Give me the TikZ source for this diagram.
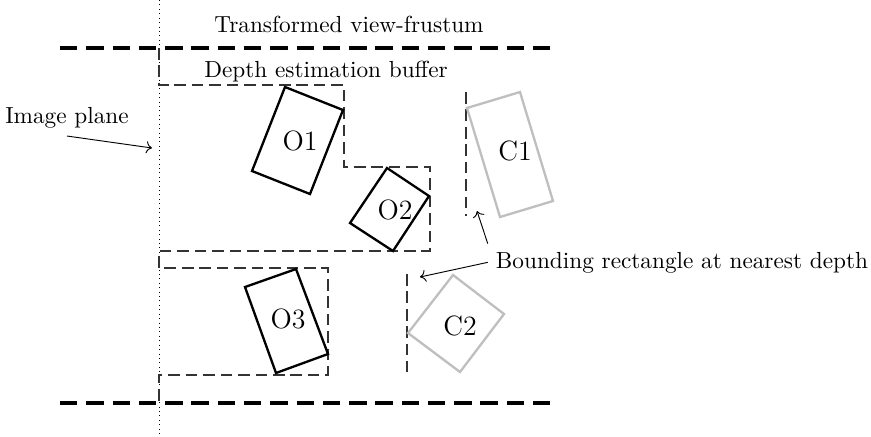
\documentclass[tikz,border=0pt]{standalone}
\usetikzlibrary{positioning, arrows.meta}

\begin{document}
\begin{tikzpicture}[
    x=0.43pt, y=-0.43pt,
    frustum/.style={
        dash pattern=on 7.5pt off 3.8pt,
        line width=1.4pt
    },
    buffer/.style={
        dash pattern=on 5pt off 2.5pt,
        line width=0.5pt,
        black!80
    },
    plane/.style={
        dash pattern=on 0.4pt off 1.5pt,
        line width=0.4pt
    },
    obj/.style={
        draw,
        line width=1pt
    },
    cand/.style={
        draw=black!25,
        line width=1pt
    },
    objlabel/.style={
        font=\large
    },
    ptr/.style={
        ->,
        thin
    }
]
    \useasboundingbox (0,0) rectangle (871,436);

    % Image plane
    \draw[plane] (159,0) -- (159,436);

    % Transformed view-frustum
    \draw[frustum] (60,48) -- (558,48);
    \draw[frustum] (60,403) -- (558,403);

    % Depth estimation buffer
    \draw[buffer] (159,48) |- (344,85) |- (430,167) |- (159,251)
        |- (328,268) |- (159,375) -- (159,403);

    % Bounding rectangles of the candidates
    \draw[buffer] (466,92) -- (466,216);
    \draw[buffer] (407,274) -- (407,372);

    % Objects
    \draw[obj] (285,87) -- (343,110) -- (310,194) -- (252,171) -- cycle;
    \node[objlabel] (o1) at (300,141) {O1};
    \draw[obj] (387,168) -- (429,196) -- (393,251) -- (350,223) -- cycle;
    \node[objlabel] (o2) at (395,210) {O2};
    \draw[obj] (245,287) -- (296,269) -- (328,354) -- (276,373) -- cycle;
    \node[objlabel] (o3) at (288,319) {O3};

    % Candidates
    \draw[cand] (467,108) -- (520,92) -- (553,201) -- (500,217) -- cycle;
    \node[objlabel] (c1) at (515,151) {C1};
    \draw[cand] (453,275) -- (504,314) -- (460,372) -- (408,333) -- cycle;
    \node[objlabel] (c2) at (460,326) {C2};

    % Labels
    \node[anchor=base] (frustumlabel) at (349,32) {Transformed view-frustum};
    \node[anchor=base] (bufferlabel) at (326,77) {Depth estimation buffer};
    \node[anchor=base] (imgplane) at (67,123) {Image plane};
    \node[anchor=base] (bound) at (682,268) {Bounding rectangle at nearest depth};

    % Pointers
    \coordinate (planept) at (152,148);
    \coordinate (c1edge) at (477,211);
    \coordinate (c2edge) at (420,277);
    \draw[ptr] (imgplane.south) -- (planept);
    \draw[ptr] (bound.north west) -- (c1edge);
    \draw[ptr] (bound.west) -- (c2edge);

\end{tikzpicture}
\end{document}
